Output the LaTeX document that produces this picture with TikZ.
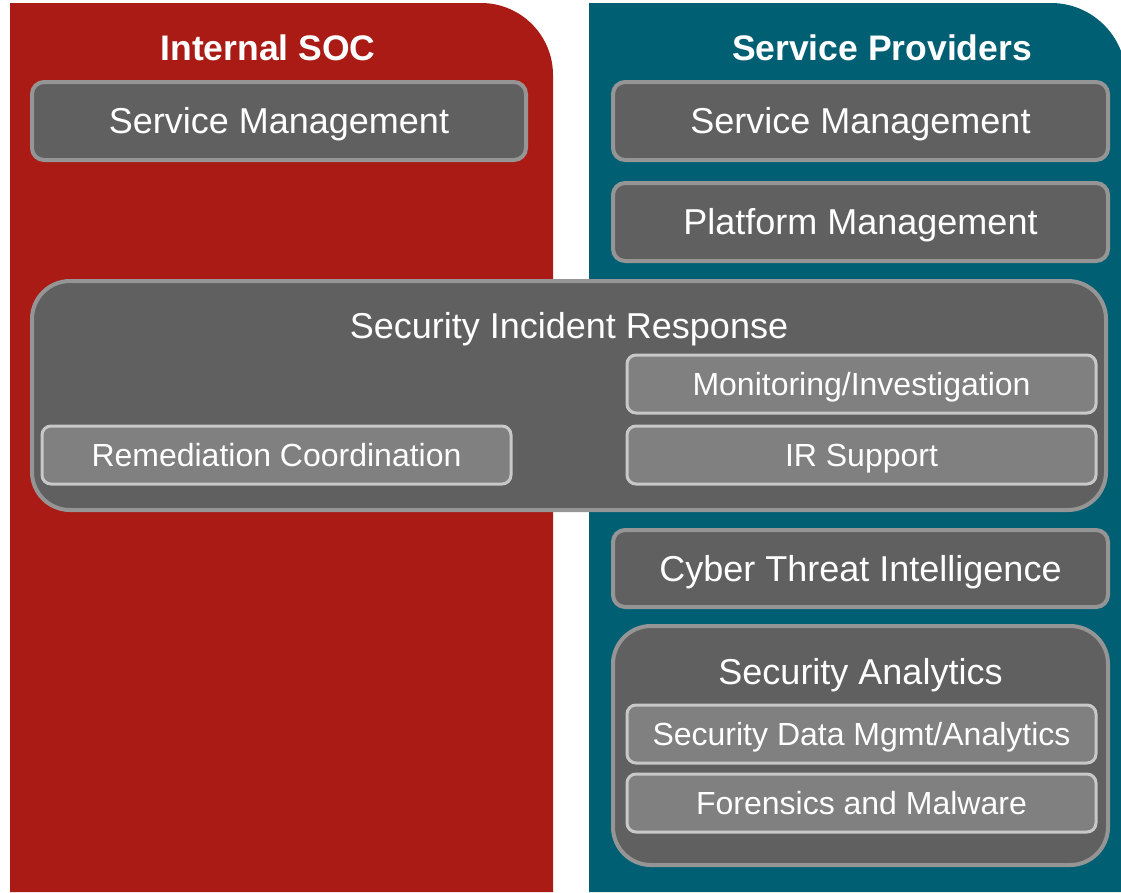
\documentclass[tikz,border=0pt]{standalone}
\usepackage{fontspec}
\setmainfont{Liberation Sans}
\definecolor{socred}{HTML}{A91B14}
\definecolor{spteal}{HTML}{005F73}
\definecolor{boxgray}{HTML}{606060}
\definecolor{boxedge}{HTML}{959595}
\definecolor{subgray}{HTML}{808080}
\definecolor{subedge}{HTML}{C8C8C8}
\begin{document}
\begin{tikzpicture}[x=1pt,y=-1pt,
  outerbox/.style={draw=boxedge,fill=boxgray,line width=4pt,rounded corners=12pt,inner sep=0pt,text=white,font=\fontsize{36}{40}\selectfont,text height=25.8pt,text depth=0pt},
  bigbox/.style={draw=boxedge,fill=boxgray,line width=4pt,rounded corners=38pt,inner sep=0pt},
  subbox/.style={draw=subedge,fill=subgray,line width=3pt,rounded corners=9pt,inner sep=0pt,text=white,font=\fontsize{32}{36}\selectfont,text height=22.9pt,text depth=0pt},
  boxtitle/.style={text=white,font=\fontsize{36}{40}\selectfont,inner sep=0pt,text height=25.8pt,text depth=0pt},
  paneltitle/.style={text=white,font=\fontsize{35.5}{40}\selectfont\bfseries,inner sep=0pt,text height=25.4pt,text depth=0pt}]
\useasboundingbox (0,0) rectangle (1121,892);
\fill[white] (0,0) rectangle (1121,892);
% panels
\fill[socred] (10,892) -- (10,3) [rounded corners=72pt] -- (553,3) [sharp corners] -- (553,892) -- cycle;
\fill[spteal] (589,892) -- (589,3) [rounded corners=75pt] -- (1126,3) [sharp corners] -- (1126,892) -- cycle;
\node[paneltitle] (tsoc) at (268,48) {Internal SOC};
\node[paneltitle] (tsp) at (882,48) {Service Providers};
% internal
\node[outerbox,minimum width=494pt,minimum height=78pt] (ism) at (279,121) {Service Management};
% providers
\node[outerbox,minimum width=495pt,minimum height=78pt] (psm) at (860.5,121) {Service Management};
\node[outerbox,minimum width=495pt,minimum height=78pt] (ppm) at (860.5,222) {Platform Management};
% incident response
\node[bigbox,minimum width=1074pt,minimum height=229pt] (sir) at (569,395.5) {};
\node[boxtitle] (sirt) at (569,326) {Security Incident Response};
\node[subbox,minimum width=469pt,minimum height=58pt] (mon) at (861.5,384) {Monitoring/Investigation};
\node[subbox,minimum width=469pt,minimum height=58pt] (irs) at (861.5,455) {IR Support};
\node[subbox,minimum width=469pt,minimum height=58pt] (rem) at (276.5,455) {Remediation Coordination};
% CTI
\node[outerbox,minimum width=495pt,minimum height=77pt] (cti) at (860.5,568.5) {Cyber Threat Intelligence};
% analytics
\node[bigbox,minimum width=495pt,minimum height=239pt] (sa) at (860.5,745.5) {};
\node[boxtitle] (sat) at (860.5,672) {Security Analytics};
\node[subbox,minimum width=469pt,minimum height=58pt] (sdm) at (861.5,734) {Security Data Mgmt/Analytics};
\node[subbox,minimum width=469pt,minimum height=58pt] (fm) at (861.5,803) {Forensics and Malware};
\end{tikzpicture}
\end{document}
